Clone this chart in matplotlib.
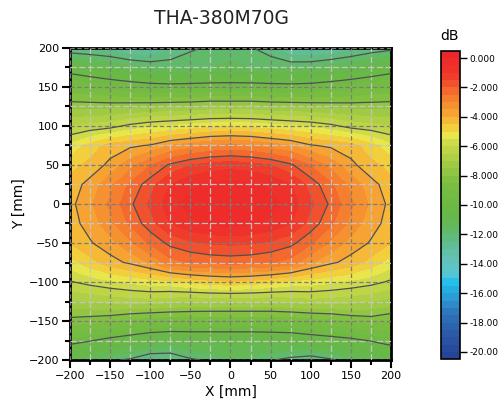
import numpy as np
import matplotlib
matplotlib.use("Agg")
import matplotlib.pyplot as plt
from matplotlib.colors import LinearSegmentedColormap, ListedColormap, BoundaryNorm
from matplotlib.ticker import FuncFormatter, MultipleLocator

plt.rcParams["font.family"] = ["DejaVu Sans"]

# measurement grid [mm]
x_mm = [-200, -175, -150, -125, -100, -75, -50, -25, 0, 25, 50, 75, 100, 125, 150, 175, 200]
y_mm = [200, 175, 150, 125, 100, 75, 50, 25, 0, -25, -50, -75, -100, -125, -150, -175, -200]

# relative level [dB], one row per y (top to bottom), one column per x (left to right)
row_p200 = [-12.5, -12.6, -12.7, -13.1, -13.2, -12.6, -12.1, -11.9, -11.7, -11.95, -12.3, -13.0, -13.2, -13.0, -12.7, -12.4, -12.2]
row_p175 = [-10.5, -10.8, -11.1, -11.3, -11.5, -11.6, -11.6, -11.5, -11.4, -11.5, -11.6, -11.6, -11.5, -11.3, -11.1, -10.8, -10.5]
row_p150 = [-8.9, -9.1, -9.3, -9.5, -9.65, -9.7, -9.65, -9.6, -9.6, -9.6, -9.65, -9.7, -9.65, -9.5, -9.3, -9.1, -8.9]
row_p125 = [-7.7, -7.7, -7.7, -7.65, -7.6, -7.55, -7.5, -7.4, -7.4, -7.4, -7.5, -7.55, -7.6, -7.65, -7.7, -7.7, -7.7]
row_p100 = [-6.5, -6.35, -6.2, -5.85, -5.6, -5.45, -5.3, -5.15, -5.1, -5.15, -5.3, -5.45, -5.6, -5.85, -6.2, -6.35, -6.5]
row_p075 = [-5.4, -4.8, -4.3, -4.1, -3.95, -3.5, -3.25, -3.0, -2.9, -3.0, -3.25, -3.5, -3.95, -4.1, -4.3, -4.8, -5.4]
row_p050 = [-4.7, -4.35, -3.85, -3.2, -2.55, -1.9, -1.5, -1.3, -1.2, -1.3, -1.5, -1.9, -2.55, -3.2, -3.85, -4.35, -4.7]
row_p025 = [-4.3, -3.8, -3.15, -2.4, -1.7, -1.0, -0.6, -0.4, -0.3, -0.4, -0.6, -1.0, -1.7, -2.4, -3.15, -3.8, -4.3]
row_0 = [-4.15, -3.6, -2.9, -2.1, -1.4, -0.7, -0.3, -0.1, 0.0, -0.1, -0.3, -0.7, -1.4, -2.1, -2.9, -3.6, -4.15]
row_m025 = [-4.2, -3.8, -3.15, -2.4, -1.7, -1.0, -0.6, -0.4, -0.3, -0.4, -0.6, -1.0, -1.7, -2.4, -3.15, -3.8, -4.2]
row_m050 = [-4.5, -4.05, -3.7, -3.1, -2.4, -1.85, -1.6, -1.45, -1.4, -1.45, -1.6, -1.85, -2.4, -3.1, -3.7, -4.05, -4.5]
row_m075 = [-5.2, -4.7, -4.2, -3.9, -3.45, -2.7, -2.45, -2.35, -2.3, -2.35, -2.45, -2.7, -3.45, -3.9, -4.2, -4.7, -5.25]
row_m100 = [-6.05, -5.8, -5.6, -5.4, -5.25, -5.15, -4.9, -4.7, -4.6, -4.7, -4.9, -5.15, -5.25, -5.4, -5.6, -5.8, -6.1]
row_m125 = [-7.1, -7.0, -6.85, -6.8, -6.75, -6.9, -7.0, -7.0, -7.0, -7.0, -7.0, -6.9, -6.75, -6.8, -6.85, -7.0, -7.2]
row_m150 = [-8.2, -8.3, -8.45, -8.7, -8.9, -8.95, -8.95, -9.0, -9.0, -9.0, -9.0, -8.95, -8.85, -8.7, -8.45, -8.3, -8.5]
row_m175 = [-9.75, -9.95, -10.25, -10.5, -10.75, -10.9, -10.85, -10.8, -10.8, -10.8, -10.75, -10.7, -10.5, -10.35, -10.2, -9.95, -9.7]
row_m200 = [-11.0, -11.5, -11.9, -12.1, -12.6, -12.6, -12.1, -11.9, -11.6, -11.7, -11.95, -12.2, -12.4, -12.1, -11.7, -11.3, -10.9]

level_rows = [row_p200, row_p175, row_p150, row_p125, row_p100, row_p075, row_p050, row_p025, row_0,
              row_m025, row_m050, row_m075, row_m100, row_m125, row_m150, row_m175, row_m200]

line_levels = [-12, -10, -8, -6, -4, -2]
cbar_ticks = [0, -2, -4, -6, -8, -10, -12, -14, -16, -18, -20]

# colour scale anchors (dB, colour)
anchors = [
    (-20.5, "#233f95"), (-19.5, "#2a4e9f"), (-18.5, "#2c5faa"), (-17.5, "#2e72b8"),
    (-16.75, "#2e8ccb"), (-16.0, "#28a6dd"), (-15.25, "#24bfea"), (-14.75, "#52c4d6"),
    (-14.0, "#63c4bf"), (-13.0, "#60bea0"), (-12.0, "#5fba72"), (-11.0, "#66b84a"),
    (-10.0, "#6bb944"), (-8.5, "#7abd41"), (-7.0, "#a7cd44"), (-6.0, "#c6d84a"),
    (-5.75, "#cfdb4a"), (-5.25, "#e9e64b"), (-4.75, "#f0d23e"), (-4.25, "#f5bb37"),
    (-3.75, "#f7a533"), (-3.0, "#f68a30"), (-2.5, "#f4752f"), (-2.0, "#f2602e"),
    (-1.5, "#f0452c"), (-1.0, "#ef342b"), (0.0, "#ee2a2a"), (0.5, "#e4272a"),
]
lo, hi = -20.5, 0.5
base = LinearSegmentedColormap.from_list(
    "beam", [((v - lo) / (hi - lo), c) for v, c in anchors])
bounds = np.arange(lo, hi + 0.01, 0.5)
centers = (bounds[:-1] + bounds[1:]) / 2
cmap = ListedColormap([base((c - lo) / (hi - lo)) for c in centers])
norm = BoundaryNorm(bounds, cmap.N)

X, Y = np.meshgrid(x_mm, y_mm)
Z = np.array(level_rows)

fig = plt.figure(figsize=(5.02, 4.09), dpi=100)
ax = fig.add_axes([70 / 502, 1 - 360 / 409, 321 / 502, 312 / 409])
cax = fig.add_axes([441 / 502, 1 - 359.3 / 409, 19 / 502, 308.6 / 409])

cf = ax.contourf(X, Y, Z, levels=bounds, cmap=cmap, norm=norm, zorder=1)
ax.contour(X, Y, Z, levels=line_levels, colors="#505050", linewidths=0.9,
           linestyles="solid", zorder=3)

ax.set_xlim(-200, 200)
ax.set_ylim(-200, 200)
ax.xaxis.set_major_locator(MultipleLocator(50))
ax.yaxis.set_major_locator(MultipleLocator(50))
ax.xaxis.set_minor_locator(MultipleLocator(25))
ax.yaxis.set_minor_locator(MultipleLocator(25))
ax.set_axisbelow(False)
ax.grid(which="minor", color="#c4c4c4", linestyle=(0, (5, 2)), linewidth=0.9, zorder=2)
ax.grid(which="major", color="#7c7c7c", linestyle=(0, (3.5, 2)), linewidth=0.9, zorder=2)
ax.tick_params(which="major", direction="out", length=6, width=1.5, labelsize=8, pad=2)
ax.tick_params(which="minor", direction="out", length=3.5, width=1.5)
for sp in ax.spines.values():
    sp.set_linewidth(2)

ax.set_xlabel("X [mm]", fontsize=10, labelpad=3)
ax.set_ylabel("Y [mm]", fontsize=10, labelpad=2)
fig.text(221.5 / 502, 1 - 19 / 409, "THA-380M70G", fontsize=13.5, ha="center", va="center",
         color="#222222")

cb = fig.colorbar(cf, cax=cax, ticks=cbar_ticks)
cb.outline.set_linewidth(1.2)


def fmt_db(v, pos):
    s = f"{abs(v):.3f}" if abs(v) < 10 else f"{abs(v):.2f}"
    return ("-" + s) if v < 0 else s


cax.yaxis.set_major_formatter(FuncFormatter(fmt_db))
cax.tick_params(direction="out", length=5, width=1, labelsize=6.5, pad=2)
cax.minorticks_off()
fig.text(450 / 502, 1 - 35.5 / 409, "dB", fontsize=10, ha="center", va="center")

fig.savefig("out.png", dpi=100)
